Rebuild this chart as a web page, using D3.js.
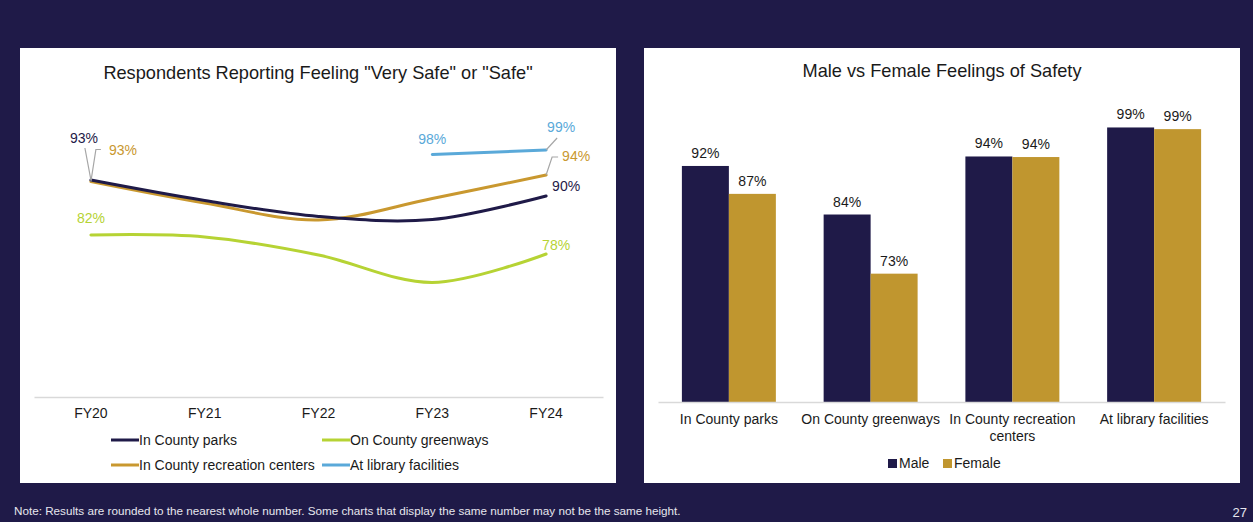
<!DOCTYPE html>
<html>
<head>
<meta charset="utf-8">
<script src="https://cdn.jsdelivr.net/npm/d3@7"></script>
<style type="text/css">
	body { margin: 0; background-color: #1f1a48; }
	svg { display: block; }
	text { font-family: "Liberation Sans", Arial, sans-serif; }
	.title { font-size: 18.2px; fill: #1a1a1a; }
	.tick text { font-size: 14px; fill: #1a1a1a; }
	.lbl { font-size: 14px; }
	.legend { font-size: 14px; fill: #1a1a1a; }
	.leader { fill: none; stroke: #a6a6a6; stroke-width: 1.2; }
</style>
</head>
<body>
<div id=chart></div>
<script>

// ---- left chart data
var years = ["FY20", "FY21", "FY22", "FY23", "FY24"];
var parks      = [93.2, 89.1, 85.9, 85.3, 90.0];
var recCenters = [92.9, 88.6, 85.2, 89.5, 94.2];
var greenways  = [82.2, 81.8, 78.2, 72.7, 78.4];
var library    = [null, null, null, 98.3, 99.2];
var seriesNames = ["In County parks", "On County greenways", "In County recreation centers", "At library facilities"];

// ---- right chart data
var places = ["In County parks", "On County greenways", "In County recreation centers", "At library facilities"];
var male   = [92.3, 83.6, 94.0, 99.2];
var female = [87.3, 73.0, 93.9, 98.9];
var genders = ["Male", "Female"];

var W = 1253, H = 522;
var navy = "#1f1a48", gold = "#c9982f", lime = "#b6d334", sky = "#5aa9d9";
var barGold = "#c0962f";

var svg = d3.select("#chart").append("svg").attr("width", W).attr("height", H);
svg.append("rect").attr("width", W).attr("height", H).attr("fill", navy);

// panels
svg.append("rect").attr("x", 20).attr("y", 48).attr("width", 596).attr("height", 435).attr("fill", "#fff");
svg.append("rect").attr("x", 644).attr("y", 48).attr("width", 596).attr("height", 435).attr("fill", "#fff");

// footer
svg.append("text").attr("x", 14).attr("y", 515).attr("fill", "#e6e6ee").style("font-size", "11.7px")
	.text("Note: Results are rounded to the nearest whole number. Some charts that display the same number may not be the same height.");
svg.append("text").attr("x", 1247).attr("y", 517).attr("text-anchor", "end").attr("fill", "#e6e6ee").style("font-size", "13px")
	.text("27");

// ================= left: line chart =================
var left = svg.append("g");

left.append("text").attr("class", "title").attr("x", 318).attr("y", 79).attr("text-anchor", "middle")
	.text('Respondents Reporting Feeling "Very Safe" or "Safe"');

var x = d3.scaleBand().domain(years).range([34, 603]);
var cx = function(d) { return x(d) + x.bandwidth() / 2; };
var y = d3.scaleLinear().domain([50, 100]).range([396, 146]);

var xAxis = left.append("g").attr("transform", "translate(0,397)")
	.call(d3.axisBottom(x).tickSize(0).tickPadding(11));
xAxis.select(".domain").attr("stroke", "#d9d9d9").attr("stroke-width", 1.3);

var series = [
	{ name: seriesNames[0], values: parks, color: navy },
	{ name: seriesNames[1], values: greenways, color: lime },
	{ name: seriesNames[2], values: recCenters, color: gold },
	{ name: seriesNames[3], values: library, color: sky }
];

var line = d3.line()
	.defined(function(d) { return d != null; })
	.x(function(d, i) { return cx(years[i]); })
	.y(function(d) { return y(d); })
	.curve(d3.curveCatmullRom.alpha(0));

// draw order so navy stays on top of gold
[series[1], series[3], series[2], series[0]].forEach(function(s) {
	left.append("path").datum(s.values)
		.attr("fill", "none").attr("stroke", s.color).attr("stroke-width", 3)
		.attr("stroke-linecap", "round")
		.attr("d", line);
});

// data labels: series index, year index, dx, dy, anchor, leader points (relative)
var labelSpecs = [
	{ s: 0, i: 0, dx: -7, dy: -37, anchor: "middle", leader: [[0, 0], [-6, -32]] },
	{ s: 2, i: 0, dx: 18, dy: -27, anchor: "start", leader: [[0, 0], [5, -32], [10, -32]] },
	{ s: 1, i: 0, dx: 0, dy: -12, anchor: "middle" },
	{ s: 1, i: 4, dx: -4, dy: -4, anchor: "start" },
	{ s: 0, i: 4, dx: 6, dy: -5, anchor: "start" },
	{ s: 2, i: 4, dx: 16, dy: -14, anchor: "start", leader: [[0, 0], [6, -18], [12, -18]] },
	{ s: 3, i: 4, dx: 1, dy: -18, anchor: "start", leader: [[0, 0], [11, -12]] },
	{ s: 3, i: 3, dx: 0, dy: -11, anchor: "middle" }
];

labelSpecs.forEach(function(l) {
	var s = series[l.s];
	var px = cx(years[l.i]), py = y(s.values[l.i]);
	if (l.leader) {
		left.append("path").attr("class", "leader")
			.attr("d", d3.line()(l.leader.map(function(p) { return [px + p[0], py + p[1]]; })));
	}
	left.append("text").attr("class", "lbl")
		.attr("x", px + l.dx).attr("y", py + l.dy)
		.attr("text-anchor", l.anchor).attr("fill", s.color)
		.text(Math.round(s.values[l.i]) + "%");
});

// legend
var legendRows = [
	{ s: series[0], x: 111, y: 440 }, { s: series[1], x: 322, y: 440 },
	{ s: series[2], x: 111, y: 465 }, { s: series[3], x: 322, y: 465 }
];
legendRows.forEach(function(r) {
	left.append("line").attr("x1", r.x).attr("x2", r.x + 28).attr("y1", r.y).attr("y2", r.y)
		.attr("stroke", r.s.color).attr("stroke-width", 3);
	left.append("text").attr("class", "legend").attr("x", r.x + 28).attr("y", r.y + 5).text(r.s.name);
});

// ================= right: bar chart =================
var right = svg.append("g");

right.append("text").attr("class", "title").attr("x", 942).attr("y", 77).attr("text-anchor", "middle")
	.text("Male vs Female Feelings of Safety");

var x0 = d3.scaleBand().domain(places).range([658, 1225]).paddingInner(0.337).paddingOuter(0.1685);
var x1 = d3.scaleBand().domain(genders).range([0, x0.bandwidth()]);
var yb = d3.scaleLinear().domain([50, 100]).range([402, 123]);
var barColor = d3.scaleOrdinal().domain(genders).range([navy, barGold]);

var rows = places.map(function(p, i) { return { place: p, vals: [male[i], female[i]] }; });

var groups = right.selectAll("g.grp").data(rows).enter().append("g")
	.attr("class", "grp")
	.attr("transform", function(d) { return "translate(" + x0(d.place) + ",0)"; });

groups.selectAll("rect").data(function(d) { return d.vals.map(function(v, j) { return { g: genders[j], v: v }; }); })
	.enter().append("rect")
	.attr("x", function(d) { return x1(d.g); })
	.attr("width", x1.bandwidth())
	.attr("y", function(d) { return yb(d.v); })
	.attr("height", function(d) { return yb(50) - yb(d.v); })
	.attr("fill", function(d) { return barColor(d.g); });

groups.selectAll("text.val").data(function(d) { return d.vals.map(function(v, j) { return { g: genders[j], v: v }; }); })
	.enter().append("text")
	.attr("class", "lbl val")
	.attr("x", function(d) { return x1(d.g) + x1.bandwidth() / 2; })
	.attr("y", function(d) { return yb(d.v) - 8; })
	.attr("text-anchor", "middle").attr("fill", "#1a1a1a")
	.text(function(d) { return Math.round(d.v) + "%"; });

var bAxis = right.append("g").attr("transform", "translate(0,402)")
	.call(d3.axisBottom(x0).tickSize(0).tickPadding(12));
bAxis.select(".domain").attr("stroke", "#d9d9d9").attr("stroke-width", 1.3);

// wrap long category labels
bAxis.selectAll(".tick text").each(function() {
	var t = d3.select(this), words = t.text().split(/\s+/), lineWords = [], lines = [];
	t.text(null);
	var probe = t.append("tspan");
	words.forEach(function(w) {
		lineWords.push(w);
		probe.text(lineWords.join(" "));
		if (probe.node().getComputedTextLength() > x0.step() + 2 && lineWords.length > 1) {
			lineWords.pop();
			lines.push(lineWords.join(" "));
			lineWords = [w];
		}
	});
	lines.push(lineWords.join(" "));
	probe.remove();
	var dy0 = t.attr("dy");
	lines.forEach(function(l, k) {
		t.append("tspan").attr("x", 0).attr("dy", k == 0 ? dy0 : "1.2em").text(l);
	});
});

// legend
var legendB = [{ g: "Male", x: 888 }, { g: "Female", x: 943 }];
legendB.forEach(function(r) {
	right.append("rect").attr("x", r.x).attr("y", 459).attr("width", 9).attr("height", 9).attr("fill", barColor(r.g));
	right.append("text").attr("class", "legend").attr("x", r.x + 11).attr("y", 468).text(r.g);
});

</script>
</body>
</html>
